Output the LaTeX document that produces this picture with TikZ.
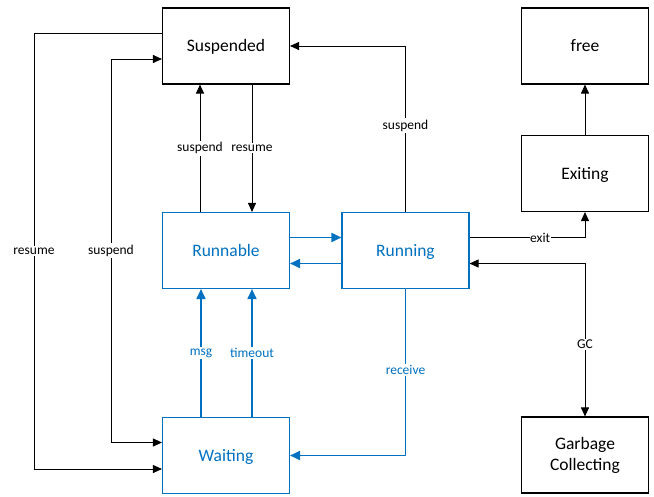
\documentclass[tikz,border=0pt]{standalone}
\usepackage{fontspec}
\setmainfont{Carlito}
\usetikzlibrary{arrows.meta}
\definecolor{myblue}{RGB}{0,112,192}
\tikzset{
  box/.style={draw=black, line width=1.1pt, minimum width=127pt, minimum height=76pt, inner sep=0pt, align=center, font=\fontsize{17.5}{21}\selectfont},
  one/.style={text height=11.5pt, text depth=0pt},
  bluebox/.style={box, one, draw=myblue, text=myblue},
  arr/.style={draw=black, line width=0.9pt, -{Triangle[length=9pt,width=8pt]}},
  barr/.style={draw=myblue, line width=1.8pt, -{Triangle[length=10pt,width=9pt]}},
  lbl/.style={fill=white, inner sep=1.5pt, font=\fontsize{13.5}{15}\selectfont},
  blbl/.style={lbl, text=myblue}
}
\begin{document}
\begin{tikzpicture}[x=1pt,y=-1pt]
\useasboundingbox (0,0) rectangle (654,496);
\node[box, one] (susp) at (226,46) {Suspended};
\node[bluebox] (runnable) at (226,250.5) {Runnable};
\node[bluebox] (waiting) at (226,455.5) {Waiting};
\node[bluebox] (running) at (405.5,250.5) {Running};
\node[box, one] (free) at (585,46) {free};
\node[box, one] (exiting) at (585,173.5) {Exiting};
\node[box] (gc) at (585,455) {Garbage\\Collecting};

\draw[arr] ([xshift=-26pt]runnable.north) -- node[lbl, pos=0.5] {suspend} ([xshift=-26pt]susp.south);
\draw[arr] ([xshift=26pt]susp.south) -- node[lbl, pos=0.5] {resume} ([xshift=26pt]runnable.north);
\draw[arr] (running.north) |- node[lbl, pos=0.26] {suspend} (susp.east);
\draw[arr] ([yshift=13pt]susp.west) -- ++(-128,0) coordinate (c1) |- node[lbl, pos=0.25] {resume} ([yshift=-13.5pt]waiting.west);
\draw[arr, {Triangle[length=9pt,width=8pt]}-{Triangle[length=9pt,width=8pt]}] ([yshift=13pt]waiting.west) -- ++(-51,0) coordinate (c2) |- node[lbl, pos=0.25] {suspend} ([yshift=-13pt]susp.west);

\draw[barr] ([yshift=13pt]runnable.east) -- ([yshift=13pt]running.west);
\draw[barr] ([yshift=-13pt]running.west) -- ([yshift=-13pt]runnable.east);
\draw[barr] ([xshift=-25pt]waiting.north) -- node[blbl, pos=0.5] {msg} ([xshift=-25pt]runnable.south);
\draw[barr] ([xshift=26pt]waiting.north) -- node[blbl, pos=0.5] {timeout} ([xshift=26pt]runnable.south);
\draw[barr] (running.south) |- node[blbl, pos=0.243] {receive} (waiting.east);

\draw[arr] ([yshift=13pt]running.east) -| node[lbl, pos=0.306, inner sep=0.5pt] {exit} (exiting.south);
\draw[arr] (exiting.north) -- (free.south);
\draw[arr, {Triangle[length=9pt,width=8pt]}-{Triangle[length=9pt,width=8pt]}] ([yshift=-13pt]running.east) -| node[lbl, pos=0.765] {GC} (gc.north);
\end{tikzpicture}
\end{document}
